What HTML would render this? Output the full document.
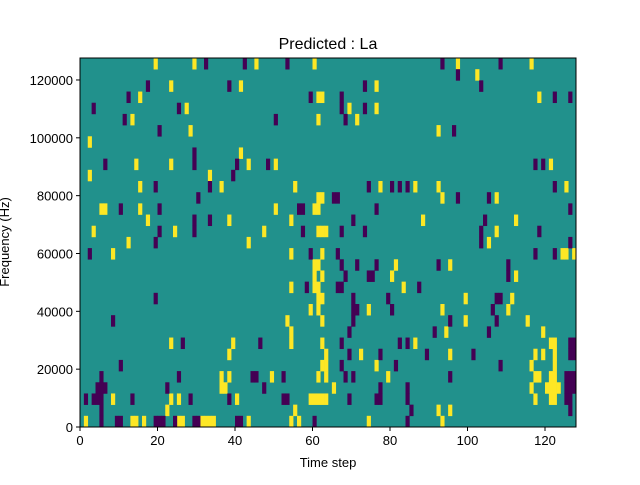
<!DOCTYPE html>
<html><head><meta charset="utf-8"><style>
body{margin:0;background:#fff;}
svg text{font-family:"Liberation Sans",sans-serif;fill:#000;}
</style></head><body>
<svg id="chart" width="640" height="480" viewBox="0 0 640 480" xmlns="http://www.w3.org/2000/svg">
<text x="328" y="49" font-size="16" text-anchor="middle">Predicted : La</text>
<g id="cells"></g>
<rect x="80" y="58" width="496" height="369" fill="none" stroke="#000" stroke-width="1"/>
<g id="xt"></g>
<g id="yt"></g>
<text x="328" y="467" font-size="13" text-anchor="middle">Time step</text>
<text x="0" y="0" font-size="13" text-anchor="middle" transform="translate(9,242) rotate(-90)">Frequency (Hz)</text>
</svg>
<script>
const nSteps = 128;
const nBins = 33;
const yMax = 127600;
const xTicks = [0, 20, 40, 60, 80, 100, 120];
const yTicks = [0, 20000, 40000, 60000, 80000, 100000, 120000];
// time steps with value +1 (yellow), indexed by frequency row from top
const yellowRows = [
 [19,29,45,60,97,116],[102],[23,41,76],[15,61,62,118],[27,69,76],[13,61,71],[28,92],[2],[41],
 [14,23,43,50,121],[2,33],[15,36,55,77,86,92,125],[61,62,93,107],[5,6,15,50,60,61],
 [17,38,54,88,112],[3,24,47,61,62,63,107],[12,43,105],[8,54,62,124,125,127],[60,61,81,95],
 [60,62,80,112],[54,60,61,83],[61,62,99,111],[59,61,74,93,110],[53,62,99,115],[54,94,119],
 [23,39,54,62,86,121,122],[38,63,72,95,117,119,122],[62,63,76,116,122],
 [36,38,49,61,63,79,117,118,121,122],[36,37,65,116,120,121,122,123],
 [8,23,25,40,59,60,61,62,63,117,121,122],[22,55,92,95],[1,13,14,16,25,26,31,32,33,34,43,54,56,74,93]
];
// time steps with value -1 (purple)
const purpleRows = [
 [32,42,53,93,108],[97],[17,38,73,103],[12,59,67,122,126],[3,25,67,73],[11,50,68],[20,96],[],[29],
 [6,29,40,48,117,119],[39],[19,33,74,80,82,84,122],[30,65,66,97,105],[10,20,56,57,76,126],
 [29,33,70,104],[20,29,57,67,73,103,118],[19,103,126],[2,59,66,117,122],[67,71,76,92,110],
 [68,74,75,110],[58,66,67,87],[19,70,79,107,108],[70,71,80,106],[8,70,95,107],[69,91,105],
 [26,46,67,82,84,126,127],[69,77,89,101,126,127],[10,67,81,108],
 [5,25,44,45,52,68,70,95,125,126,127],[4,5,6,22,47,77,84,125,126,127],
 [1,3,4,5,13,28,38,52,53,69,76,77,84,125,126],[5,85,126],[5,9,10,19,20,21,24,29,30,40,41,60,84]
];
const NS="http://www.w3.org/2000/svg";
const X0=80,X1=576,Y0=427,Y1=58;
const binHz = yMax/nBins;
function xScale(t){return X0+(t/nSteps)*(X1-X0);}
function yScale(f){return Y0-(f/yMax)*(Y0-Y1);}
const g=document.getElementById('cells');
function rect(x,y,w,h,fill){const r=document.createElementNS(NS,'rect');r.setAttribute('x',x);r.setAttribute('y',y);r.setAttribute('width',w);r.setAttribute('height',h);r.setAttribute('fill',fill);g.appendChild(r);return r;}
const bg=rect(X0,Y1,X1-X0,Y0-Y1,'#21918c');


function drawRows(rows,color,name){
 rows.forEach((ts,row)=>{
  const bin=nBins-1-row;
  const yTop=yScale((bin+1)*binHz), yBot=yScale(bin*binHz);
  ts.forEach(t=>{
   const x=xScale(t), w=xScale(t+1)-x;
   const r=rect(x,yTop,w+0.3,yBot-yTop+0.3,color);
   
   
  });
 });
}
drawRows(yellowRows,'#fde725','heatmap-cell-positive');
drawRows(purpleRows,'#440154','heatmap-cell-negative');
const xt=document.getElementById('xt');
xTicks.forEach(v=>{
 const x=xScale(v);
 const l=document.createElementNS(NS,'line');l.setAttribute('x1',x);l.setAttribute('x2',x);l.setAttribute('y1',Y0);l.setAttribute('y2',Y0+4);l.setAttribute('stroke','#000');
 
 
 xt.appendChild(l);
 const t=document.createElementNS(NS,'text');t.setAttribute('x',x);t.setAttribute('y',Y0+18);t.setAttribute('font-size','13');t.setAttribute('text-anchor','middle');t.textContent=v;
 
 
 xt.appendChild(t);
});
const yt=document.getElementById('yt');
yTicks.forEach(v=>{
 const y=yScale(v);
 const l=document.createElementNS(NS,'line');l.setAttribute('x1',X0-4);l.setAttribute('x2',X0);l.setAttribute('y1',y);l.setAttribute('y2',y);l.setAttribute('stroke','#000');
 
 
 yt.appendChild(l);
 const t=document.createElementNS(NS,'text');t.setAttribute('x',X0-7);t.setAttribute('y',y+5);t.setAttribute('font-size','13');t.setAttribute('text-anchor','end');t.textContent=v;
 
 
 yt.appendChild(t);
});
</script>
</body></html>
